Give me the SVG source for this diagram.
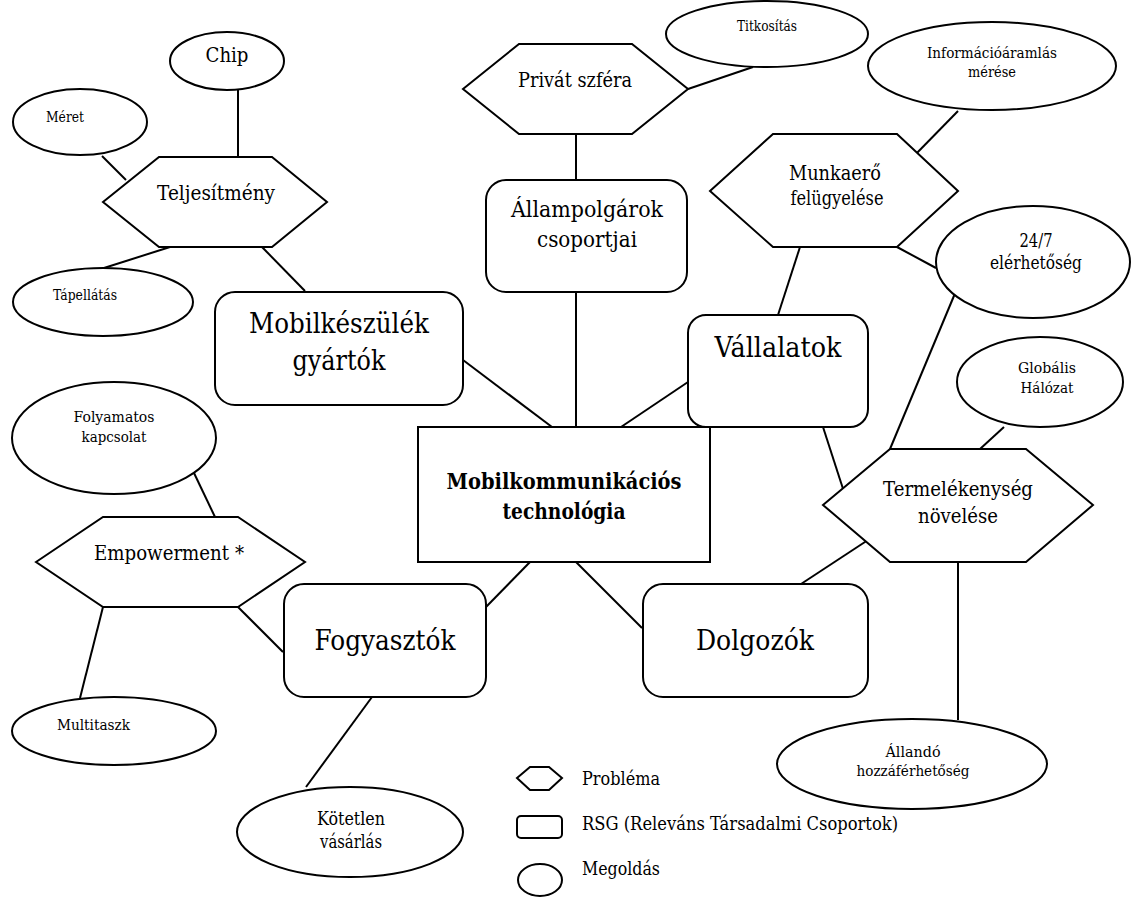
<svg xmlns="http://www.w3.org/2000/svg" width="1131" height="897" viewBox="0 0 1131 897">
<style>
.s{fill:#fff;stroke:#000;stroke-width:2}
.c line{stroke:#000;stroke-width:2}
text{font-family:"DejaVu Serif","Liberation Serif",serif;fill:#000;text-anchor:middle}
.xl{font-size:27.5px}
.l{font-size:20.5px}
.m{font-size:18.5px}
.sm{font-size:15.5px}
.xs{font-size:14px}
.st{text-anchor:start}
</style>
<rect width="1131" height="897" fill="#fff"/>
<g id="connectors" class="c">
<line x1="238" y1="89" x2="238" y2="157"/>
<line x1="102" y1="156" x2="126" y2="180"/>
<line x1="170" y1="247" x2="104" y2="268"/>
<line x1="262" y1="247" x2="305" y2="291"/>
<line x1="463" y1="360" x2="552" y2="427"/>
<line x1="688" y1="89" x2="753" y2="67"/>
<line x1="576" y1="134" x2="576" y2="180"/>
<line x1="576" y1="292" x2="576" y2="427"/>
<line x1="958" y1="111" x2="913" y2="157"/>
<line x1="897" y1="247" x2="936" y2="268"/>
<line x1="800" y1="247" x2="778" y2="315"/>
<line x1="688" y1="382" x2="621" y2="427"/>
<line x1="823" y1="427" x2="845" y2="495"/>
<line x1="956" y1="291" x2="890" y2="449"/>
<line x1="1004" y1="427" x2="980" y2="449"/>
<line x1="868" y1="540" x2="801" y2="584"/>
<line x1="958" y1="562" x2="958" y2="720"/>
<line x1="576" y1="562" x2="642" y2="628"/>
<line x1="530" y1="562" x2="486" y2="607"/>
<line x1="238" y1="607" x2="283" y2="652"/>
<line x1="194" y1="473" x2="215" y2="517"/>
<line x1="103" y1="607" x2="80" y2="698"/>
<line x1="372" y1="697" x2="306" y2="787"/>
</g>
<g id="chip"><ellipse class="s" cx="227" cy="61" rx="57" ry="29"/><text class="l" x="227" y="62" textLength="43" lengthAdjust="spacingAndGlyphs">Chip</text></g>
<g id="meret"><ellipse class="s" cx="80" cy="122" rx="67" ry="33"/><text class="xs st" x="46" y="122" textLength="38" lengthAdjust="spacingAndGlyphs">Méret</text></g>
<g id="teljesitmeny"><polygon class="s" points="103,202 159,157 272,157 327,202 272,247 159,247"/><text class="l" x="216" y="200" textLength="118" lengthAdjust="spacingAndGlyphs">Teljesítmény</text></g>
<g id="tapellatas"><ellipse class="s" cx="103" cy="302" rx="90" ry="34"/><text class="xs st" x="53" y="300" textLength="64" lengthAdjust="spacingAndGlyphs">Tápellátás</text></g>
<g id="mobilkeszulek"><rect class="s" x="215" y="292" width="248" height="113" rx="20"/><text class="xl" x="339" y="333" textLength="180" lengthAdjust="spacingAndGlyphs">Mobilkészülék</text><text class="xl" x="339" y="370" textLength="93" lengthAdjust="spacingAndGlyphs">gyártók</text></g>
<g id="privat"><polygon class="s" points="463,89 519,44 632,44 688,89 632,134 519,134"/><text class="l" x="575" y="87" textLength="114" lengthAdjust="spacingAndGlyphs">Privát szféra</text></g>
<g id="titkositas"><ellipse class="s" cx="767" cy="34" rx="101" ry="33"/><text class="xs" x="767" y="31" textLength="60" lengthAdjust="spacingAndGlyphs">Titkosítás</text></g>
<g id="allampolgarok"><rect class="s" x="486" y="180" width="201" height="112" rx="20"/><text x="587" y="217" style="font-size:23px" textLength="152" lengthAdjust="spacingAndGlyphs">Állampolgárok</text><text x="587" y="247" style="font-size:23px" textLength="100" lengthAdjust="spacingAndGlyphs">csoportjai</text></g>
<g id="informacio"><ellipse class="s" cx="992" cy="66" rx="124" ry="44"/><text class="sm" x="992" y="58" textLength="130" lengthAdjust="spacingAndGlyphs">Információáramlás</text><text class="sm" x="992" y="77" textLength="48" lengthAdjust="spacingAndGlyphs">mérése</text></g>
<g id="munkaero"><polygon class="s" points="710,191 773,134 897,134 958,191 897,247 773,247"/><text class="l" x="835" y="180" textLength="92" lengthAdjust="spacingAndGlyphs">Munkaerő</text><text class="l" x="837" y="205" textLength="93" lengthAdjust="spacingAndGlyphs">felügyelése</text></g>
<g id="elerhetoseg"><ellipse class="s" cx="1033" cy="262" rx="97" ry="56"/><text class="m" x="1036" y="247" textLength="33" lengthAdjust="spacingAndGlyphs">24/7</text><text class="m" x="1036" y="269" textLength="92" lengthAdjust="spacingAndGlyphs">elérhetőség</text></g>
<g id="vallalatok"><rect class="s" x="688" y="315" width="180" height="112" rx="18"/><text class="xl" x="778" y="357" textLength="127" lengthAdjust="spacingAndGlyphs">Vállalatok</text></g>
<g id="globalis"><ellipse class="s" cx="1040" cy="382" rx="83" ry="45"/><text class="sm" x="1047" y="373" textLength="58" lengthAdjust="spacingAndGlyphs">Globális</text><text class="sm" x="1047" y="393" textLength="53" lengthAdjust="spacingAndGlyphs">Hálózat</text></g>
<g id="central"><rect class="s" x="418" y="427" width="292" height="135"/><text x="564" y="489" style="font-size:22px;font-weight:bold" textLength="235" lengthAdjust="spacingAndGlyphs">Mobilkommunikációs</text><text x="564" y="519" style="font-size:22px;font-weight:bold" textLength="123" lengthAdjust="spacingAndGlyphs">technológia</text></g>
<g id="termelekenyseg"><polygon class="s" points="823,505 890,449 1026,449 1093,505 1026,562 890,562"/><text class="l" x="958" y="496" textLength="150" lengthAdjust="spacingAndGlyphs">Termelékenység</text><text class="l" x="958" y="523" textLength="80" lengthAdjust="spacingAndGlyphs">növelése</text></g>
<g id="folyamatos"><ellipse class="s" cx="114" cy="438" rx="102" ry="56"/><text class="sm" x="114" y="422" textLength="81" lengthAdjust="spacingAndGlyphs">Folyamatos</text><text class="sm" x="114" y="442" textLength="65" lengthAdjust="spacingAndGlyphs">kapcsolat</text></g>
<g id="empowerment"><polygon class="s" points="36,562 103,517 238,517 305,562 238,607 103,607"/><text class="l" x="169" y="560" textLength="150" lengthAdjust="spacingAndGlyphs">Empowerment *</text></g>
<g id="fogyasztok"><rect class="s" x="284" y="584" width="202" height="113" rx="20"/><text class="xl" x="385" y="650" textLength="141" lengthAdjust="spacingAndGlyphs">Fogyasztók</text></g>
<g id="dolgozok"><rect class="s" x="643" y="584" width="225" height="113" rx="20"/><text class="xl" x="755" y="650" textLength="118" lengthAdjust="spacingAndGlyphs">Dolgozók</text></g>
<g id="multitaszk"><ellipse class="s" cx="114" cy="731" rx="102" ry="34"/><text class="sm st" x="57" y="730" textLength="73" lengthAdjust="spacingAndGlyphs">Multitaszk</text></g>
<g id="allando"><ellipse class="s" cx="912" cy="764" rx="135" ry="45"/><text class="sm" x="913" y="757" textLength="55" lengthAdjust="spacingAndGlyphs">Állandó</text><text class="sm" x="913" y="776" textLength="113" lengthAdjust="spacingAndGlyphs">hozzáférhetőség</text></g>
<g id="kotetlen"><ellipse class="s" cx="350" cy="832" rx="113" ry="45"/><text class="m" x="351" y="825" textLength="68" lengthAdjust="spacingAndGlyphs">Kötetlen</text><text class="m" x="351" y="848" textLength="62" lengthAdjust="spacingAndGlyphs">vásárlás</text></g>
<g id="legend">
<polygon class="s" points="517,778 530,767 549,767 562,778 549,790 530,790"/>
<text class="m st" x="582" y="785" textLength="78" lengthAdjust="spacingAndGlyphs">Probléma</text>
<rect class="s" x="517" y="816" width="45" height="22" rx="4"/>
<text class="m st" x="582" y="830" textLength="316" lengthAdjust="spacingAndGlyphs">RSG (Releváns Társadalmi Csoportok)</text>
<ellipse class="s" cx="540" cy="880" rx="22" ry="16"/>
<text class="m st" x="582" y="875" textLength="78" lengthAdjust="spacingAndGlyphs">Megoldás</text>
</g>
</svg>
